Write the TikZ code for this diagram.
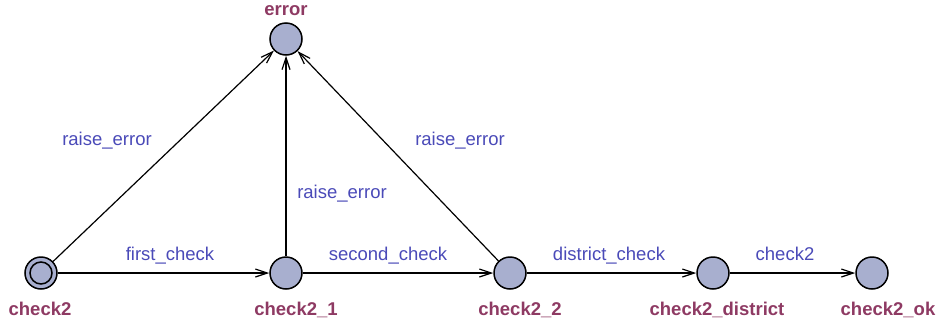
\documentclass[tikz,border=0pt]{standalone}
\usepackage{fontspec}
\setmainfont{Liberation Sans}
\usepackage{xcolor}
\usepackage{tikz}
\usetikzlibrary{arrows.meta}
\definecolor{LocFill}{HTML}{A8AFCF}
\definecolor{LocName}{HTML}{8E3A63}
\definecolor{SyncBlue}{HTML}{4A4AB8}

\begin{document}
\begin{tikzpicture}[
  x=0.5pt, y=-0.5pt,
  loc/.style={circle, draw=black, fill=LocFill, line width=0.75pt, minimum size=16pt, inner sep=0pt},
  locname/.style={anchor=base, text=LocName, font=\fontsize{9.25}{11}\selectfont\bfseries, inner sep=0pt},
  lbl/.style={anchor=base, text=SyncBlue, font=\fontsize{9.25}{11}\selectfont, inner sep=0pt},
  arrow/.style={-{Straight Barb[length=6pt,width=4pt]}, line width=0.6pt}
]
  \useasboundingbox (0,0) rectangle (938,327);
  % locations
  \node[loc] (check2) at (41,273) {};
  \draw[line width=0.75pt] (check2.center) circle[radius=5.5pt];
  \node[loc] (error) at (286,39) {};
  \node[loc] (check21) at (286,273) {};
  \node[loc] (check22) at (510,273) {};
  \node[loc] (district) at (713,273) {};
  \node[loc] (ok) at (872,273) {};
  % location names
  \node[locname] (nerror) at (286,15) {error};
  \node[locname] (ncheck2) at (40,315) {check2};
  \node[locname] (ncheck21) at (296,315) {check2\_1};
  \node[locname] (ncheck22) at (520,315) {check2\_2};
  \node[locname] (ndistrict) at (717,315) {check2\_district};
  \node[locname] (nok) at (888,315) {check2\_ok};
  % transitions
  \draw[arrow] (check2) -- (error);
  \draw[arrow] (check2) -- (check21);
  \draw[arrow] (check21) -- (error);
  \draw[arrow] (check21) -- (check22);
  \draw[arrow] (check22) -- (error);
  \draw[arrow] (check22) -- (district);
  \draw[arrow] (district) -- (ok);
  % synchronisations
  \node[lbl] (s1) at (107,145) {raise\_error};
  \node[lbl] (s2) at (170,260) {first\_check};
  \node[lbl] (s3) at (342,198) {raise\_error};
  \node[lbl] (s4) at (388,260) {second\_check};
  \node[lbl] (s5) at (460,145) {raise\_error};
  \node[lbl] (s6) at (609,260) {district\_check};
  \node[lbl] (s7) at (785,260) {check2};
\end{tikzpicture}
\end{document}
